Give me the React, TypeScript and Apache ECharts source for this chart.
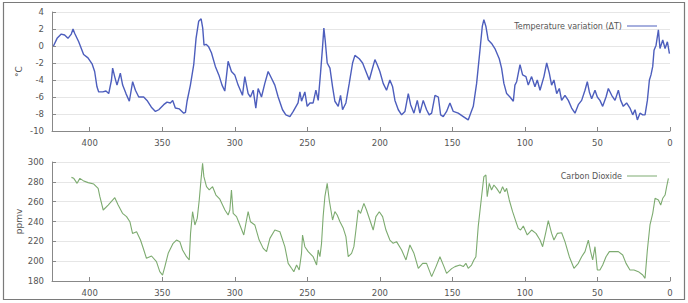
import React, { useEffect, useRef } from "react";
import * as echarts from "echarts";

// Temperature variation (ΔT), thousand years before present
const tempAge = [
  425, 422.5, 419.6, 417.3, 415, 412.7, 411.5, 410.4, 407.6, 404.2, 401.2, 398.4, 396.6, 395, 393.8, 391, 388.8, 386.9, 385, 384.2,
  382.8, 381.2, 378.9, 377.3, 375, 372.7, 370.4, 368.5, 366.2, 362.8, 360.5, 357.5, 354.7, 352.4, 349, 346.7, 344.4, 342.8, 341, 338.2,
  335.2, 334, 332.9, 330.6, 328.3, 326.7, 324.9, 323.2, 322.1, 321.2, 319.8, 318, 316.1, 313.4, 311, 308.8, 306.9, 304.6, 302.3, 300,
  297.7, 294.7, 293.1, 290.8, 289.2, 287.3, 285.5, 283.9, 281.6, 279.3, 277, 274.7, 272.4, 270.1, 267.1, 264.8, 262, 259.7, 256.4, 255.1,
  254, 251.7, 250.1, 248.2, 246, 244.1, 242.5, 240.9, 239.5, 238.6, 237.7, 236.3, 234.4, 232.6, 231, 228.7, 227.1, 225.7, 223.4, 221.1,
  218.8, 217.2, 214.2, 211.9, 209.6, 207.3, 205.7, 203.4, 201.8, 200, 197.7, 195.4, 193.1, 191.2, 189.6, 187.3, 185, 182.7, 180.4, 178.8,
  176.5, 174.2, 172.4, 170.1, 167.8, 166, 164.3, 162, 159.7, 158.1, 156.3, 154, 151.7, 149.4, 146, 142.5, 139.1, 137.4, 135.6, 133.3,
  131, 129.4, 128.3, 126.9, 125.3, 123, 120.7, 117.7, 116.1, 114.5, 112.6, 110.3, 108, 106.9, 105.7, 103.4, 101.6, 99.3, 97.7, 95.4,
  93.1, 91.5, 89.6, 86.9, 85, 83.2, 81.6, 80, 78.1, 76.3, 74.7, 72.4, 70.1, 67.8, 65.5, 63.2, 60.9, 58.6, 57, 55.6,
  54, 51.7, 50.1, 48.3, 46.4, 44.1, 42.5, 40.2, 37.9, 35.6, 34, 32.2, 29.9, 27.6, 25.7, 24.1, 22.5, 20.7, 18.8, 17.2,
  15.6, 14.2, 13.1, 11.9, 11, 9.6, 8, 6.9, 5, 3.4, 1.8, 0.4,
];
const tempValue = [
  0.0, 0.9, 1.4, 1.3, 0.9, 1.4, 2.0, 1.5, 0.5, -1.0, -1.4, -2.1, -3.0, -4.8, -5.4, -5.4, -5.3, -5.6, -4.0, -2.6,
  -3.6, -4.6, -3.2, -4.6, -5.6, -6.5, -4.2, -5.2, -6.0, -6.0, -6.4, -7.2, -7.7, -7.5, -6.9, -6.6, -6.7, -6.4, -7.3, -7.4,
  -7.9, -7.8, -6.5, -4.6, -2.2, 0.9, 2.9, 3.2, 2.1, 0.1, 0.2, -0.1, -0.8, -2.4, -3.4, -4.6, -5.3, -1.8, -3.0, -3.4,
  -4.6, -5.8, -3.6, -5.6, -6.0, -5.2, -7.3, -5.0, -6.0, -4.4, -3.0, -3.8, -4.6, -6.0, -7.5, -8.1, -8.3, -7.7, -6.7, -5.4,
  -6.5, -5.4, -7.1, -6.7, -6.7, -5.2, -6.4, -3.2, -0.1, 2.1, 0.7, -2.0, -2.6, -4.8, -6.5, -7.1, -5.8, -7.5, -6.7, -4.4,
  -2.0, -1.1, -1.5, -2.0, -3.0, -4.0, -3.0, -1.6, -2.2, -3.0, -4.4, -5.2, -4.0, -4.8, -6.4, -7.5, -8.1, -7.7, -5.6, -6.9,
  -7.9, -6.4, -7.9, -6.4, -7.5, -8.1, -7.9, -5.8, -6.0, -8.1, -8.3, -7.7, -6.7, -7.7, -7.9, -8.3, -8.7, -7.9, -7.1, -4.4,
  -0.5, 2.3, 3.1, 2.3, 0.7, 0.3, -0.3, -1.5, -2.6, -4.4, -5.6, -6.0, -6.5, -4.6, -4.2, -2.2, -3.4, -3.6, -4.6, -3.6,
  -4.8, -4.0, -5.2, -3.6, -2.0, -3.2, -4.6, -4.0, -5.6, -5.0, -6.4, -5.8, -6.4, -7.3, -7.9, -6.9, -6.4, -5.2, -4.2, -5.4,
  -6.2, -5.2, -6.0, -6.4, -7.1, -6.0, -5.0, -5.8, -6.4, -5.2, -6.4, -7.1, -6.7, -7.3, -8.1, -7.5, -8.7, -7.9, -8.1, -8.1,
  -6.4, -4.0, -3.4, -2.4, -0.5, 0.1, 1.9, -0.3, 0.7, -0.3, 0.5, -0.9,
];

// Carbon dioxide (ppmv)
const co2Age = [
  412.6, 411, 408.7, 406.8, 404.5, 401.1, 397.2, 394.2, 393, 390.7, 387.3, 382.7, 380.4, 377.4, 374.6, 372.3, 370.5, 367.7, 365, 363.1,
  360.9, 357.4, 354, 351.7, 349.8, 348.2, 345.9, 342.5, 340.2, 337.9, 336, 333.3, 331.4, 330.5, 329.1, 327.5, 325.9, 324.5, 323.4, 322.2,
  321.3, 319.5, 317.6, 315.3, 313, 310.3, 306.8, 304.6, 303.4, 302.3, 301.1, 298.8, 296.5, 293.8, 291.9, 290.8, 289.2, 286.2, 283.2, 280.4,
  278.1, 275.8, 272.4, 268.9, 265.5, 263.2, 260.9, 259.3, 257.4, 255.6, 254, 253.3, 251.7, 249.4, 246, 243.6, 242.5, 241.3, 240.2, 239.1,
  237.9, 236.3, 234.9, 232.6, 231, 229.4, 227.5, 225.2, 223.4, 221.8, 219.5, 217.9, 216.5, 214.9, 213.3, 211, 209.2, 206.9, 204.6, 202.7,
  200.4, 198.1, 195.8, 193.1, 190.8, 188.5, 185, 182, 179.3, 176.5, 173.5, 170.5, 167.8, 164.3, 161.3, 158.6, 155.8, 154, 150.5, 148.2,
  144.8, 142.5, 140.7, 139.1, 136.8, 135.2, 133.8, 132.2, 129.9, 128.3, 126.9, 126, 124.6, 123, 121.4, 119.5, 117.2, 115.4, 113.8, 112.6,
  110.8, 108.5, 106.2, 104.6, 103, 101.1, 98.4, 95.4, 92.4, 89.6, 87.8, 85.5, 83.9, 81.6, 80, 77.7, 74.7, 72.4, 69.4, 66.2,
  63.2, 60.9, 58.6, 56.3, 54.7, 53.3, 51.7, 50.1, 48.3, 46.4, 44.1, 41.8, 39, 35.6, 32.6, 30.3, 27.6, 24.8, 21.8, 18.8,
  17.2, 15.6, 13.8, 11.9, 10.3, 8, 6.4, 5, 3.4, 2.3, 1.1,
];
const co2Value = [
  284.5, 283.5, 278.5, 283.5, 281.2, 279.2, 277.8, 273.4, 265, 251.6, 256.6, 264, 256.6, 248.2, 244.9, 239.8, 228, 229.7, 221.3, 213,
  202.9, 205.2, 199.5, 189.4, 186, 194.5, 207.9, 218, 221.3, 219.7, 211.3, 204.5, 201.2, 228, 249.9, 236.5, 243.2, 261.7, 280.2, 298.7,
  285.2, 275.1, 271.8, 275.1, 266.7, 262.5, 251.6, 246.6, 251.6, 271.8, 248.2, 244.9, 236.5, 226.4, 241.5, 249.9, 239.8, 236.5, 221.3, 212.9,
  209.6, 223, 231.4, 229.7, 214.6, 197.8, 192.8, 189.4, 196.1, 191.1, 207.9, 226.4, 214.6, 209.6, 204.5, 196.1, 211.3, 204.5, 218, 244.9,
  265, 278.5, 261.7, 241.5, 249.9, 246.6, 239.8, 233.1, 224.7, 204.5, 207.9, 214.6, 231.4, 251.6, 248.2, 258.3, 251.6, 241.5, 231.4, 244.9,
  249.9, 244.9, 231.4, 221.3, 218, 219.7, 211.3, 201.2, 216.3, 207.9, 192.8, 197.8, 197.8, 184.4, 194.5, 204.5, 194.5, 187.7, 192.5, 194.5,
  196.1, 194.5, 197.8, 192.8, 196.1, 201.2, 204.5, 234.8, 265, 285.2, 286.9, 265, 278.5, 271.8, 276.8, 273.4, 268.4, 275.1, 270.1, 273.4,
  261.7, 249.9, 239.8, 233.1, 231.4, 235.5, 226.4, 231.4, 228, 221.3, 214.6, 229.7, 240.8, 228, 221.3, 228, 228.7, 219.7, 204.5, 192.8,
  197.8, 204.5, 209.6, 221.3, 209.6, 201.2, 214.6, 191.1, 191.1, 196.1, 204.5, 209.6, 209.6, 209.6, 206.2, 197.8, 191.1, 191.1, 189.4, 186,
  182.7, 211.3, 236.5, 248.2, 263.4, 261.7, 256.6, 263.4, 266.7, 275.1, 283.5,
];

const xTicks = [0, 50, 100, 150, 200, 250, 300, 350, 400];
const tempTicks = [-10, -8, -6, -4, -2, 0, 2, 4];
const co2Ticks = [180, 200, 220, 240, 260, 280, 300];

const FONT = "DejaVu Sans";
const TEXT = "#555";
const AXIS = "#888";
const SPLIT = "#e6e6e6";

export default function App() {
  const ref = useRef<HTMLDivElement>(null);
  useEffect(() => {
    if (!ref.current) return;
    const chart = echarts.init(ref.current, null, { renderer: "svg" });
    const tempData = tempAge.map((a, i) => [a, tempValue[i]]);
    const co2Data = co2Age.map((a, i) => [a, co2Value[i]]);
    const xAxisBase = (gridIndex: number) => ({
      type: "value" as const,
      gridIndex,
      inverse: true,
      min: xTicks[0],
      max: 426,
      interval: 50,
      axisLine: { show: true, onZero: false, lineStyle: { color: AXIS, width: 1 } },
      axisTick: { show: true, inside: true, length: 4, lineStyle: { color: AXIS } },
      axisLabel: { color: TEXT, fontSize: 8.5, fontFamily: FONT, margin: 7, showMaxLabel: false },
      splitLine: { show: false },
    });
    const yAxisBase = (gridIndex: number, ticks: number[], name: string) => ({
      type: "value" as const,
      gridIndex,
      min: ticks[0],
      max: ticks[ticks.length - 1],
      interval: ticks[1] - ticks[0],
      name,
      nameLocation: "middle" as const,
      nameRotate: 90,
      nameGap: 29,
      nameMoveOverlap: false,
      nameTextStyle: { color: TEXT, fontSize: 9, fontFamily: FONT },
      axisLine: { show: true, onZero: false, lineStyle: { color: AXIS, width: 1 } },
      axisTick: { show: true, inside: true, length: 4, lineStyle: { color: AXIS } },
      axisLabel: { color: TEXT, fontSize: 8.5, fontFamily: FONT, margin: 8 },
      splitLine: { show: true, lineStyle: { color: SPLIT, width: 1 } },
    });
    const legendBase = {
      right: 26,
      align: "right" as const,
      icon: "rect",
      itemWidth: 30,
      itemHeight: 1,
      itemGap: 4,
      textStyle: { color: TEXT, fontSize: 8, fontFamily: FONT },
    };
    chart.setOption({
      animation: false,
      backgroundColor: "#fff",
      textStyle: { fontFamily: FONT },
      grid: [
        { left: 52, right: 18, top: 12, height: 119 },
        { left: 52, right: 18, top: 162, height: 119 },
      ],
      xAxis: [xAxisBase(0), xAxisBase(1)],
      yAxis: [yAxisBase(0, tempTicks, "°C"), yAxisBase(1, co2Ticks, "ppmv")],
      legend: [
        { ...legendBase, data: ["Temperature variation (ΔT)"], top: 17 },
        { ...legendBase, data: ["Carbon Dioxide"], top: 167 },
      ],
      graphic: [
        {
          type: "rect",
          shape: { x: 3.5, y: 2.5, width: 681, height: 297 },
          style: { fill: "none", stroke: "#7a7a7a", lineWidth: 1.2 },
          silent: true,
        },
      ],
      series: [
        {
          name: "Temperature variation (ΔT)",
          type: "line",
          xAxisIndex: 0,
          yAxisIndex: 0,
          data: tempData,
          showSymbol: false,
          symbol: "none",
          lineStyle: { color: "#4d5ebd", width: 1.4 },
          itemStyle: { color: "#4d5ebd" },
        },
        {
          name: "Carbon Dioxide",
          type: "line",
          xAxisIndex: 1,
          yAxisIndex: 1,
          data: co2Data,
          showSymbol: false,
          symbol: "none",
          lineStyle: { color: "#7dab70", width: 1.1 },
          itemStyle: { color: "#7dab70" },
        },
      ],
    });
    return () => chart.dispose();
  }, []);
  return (
    <div
      ref={ref}
      style={{ position: "fixed", left: 0, top: 0, width: 688, height: 303, background: "#fff" }}
    />
  );
}
